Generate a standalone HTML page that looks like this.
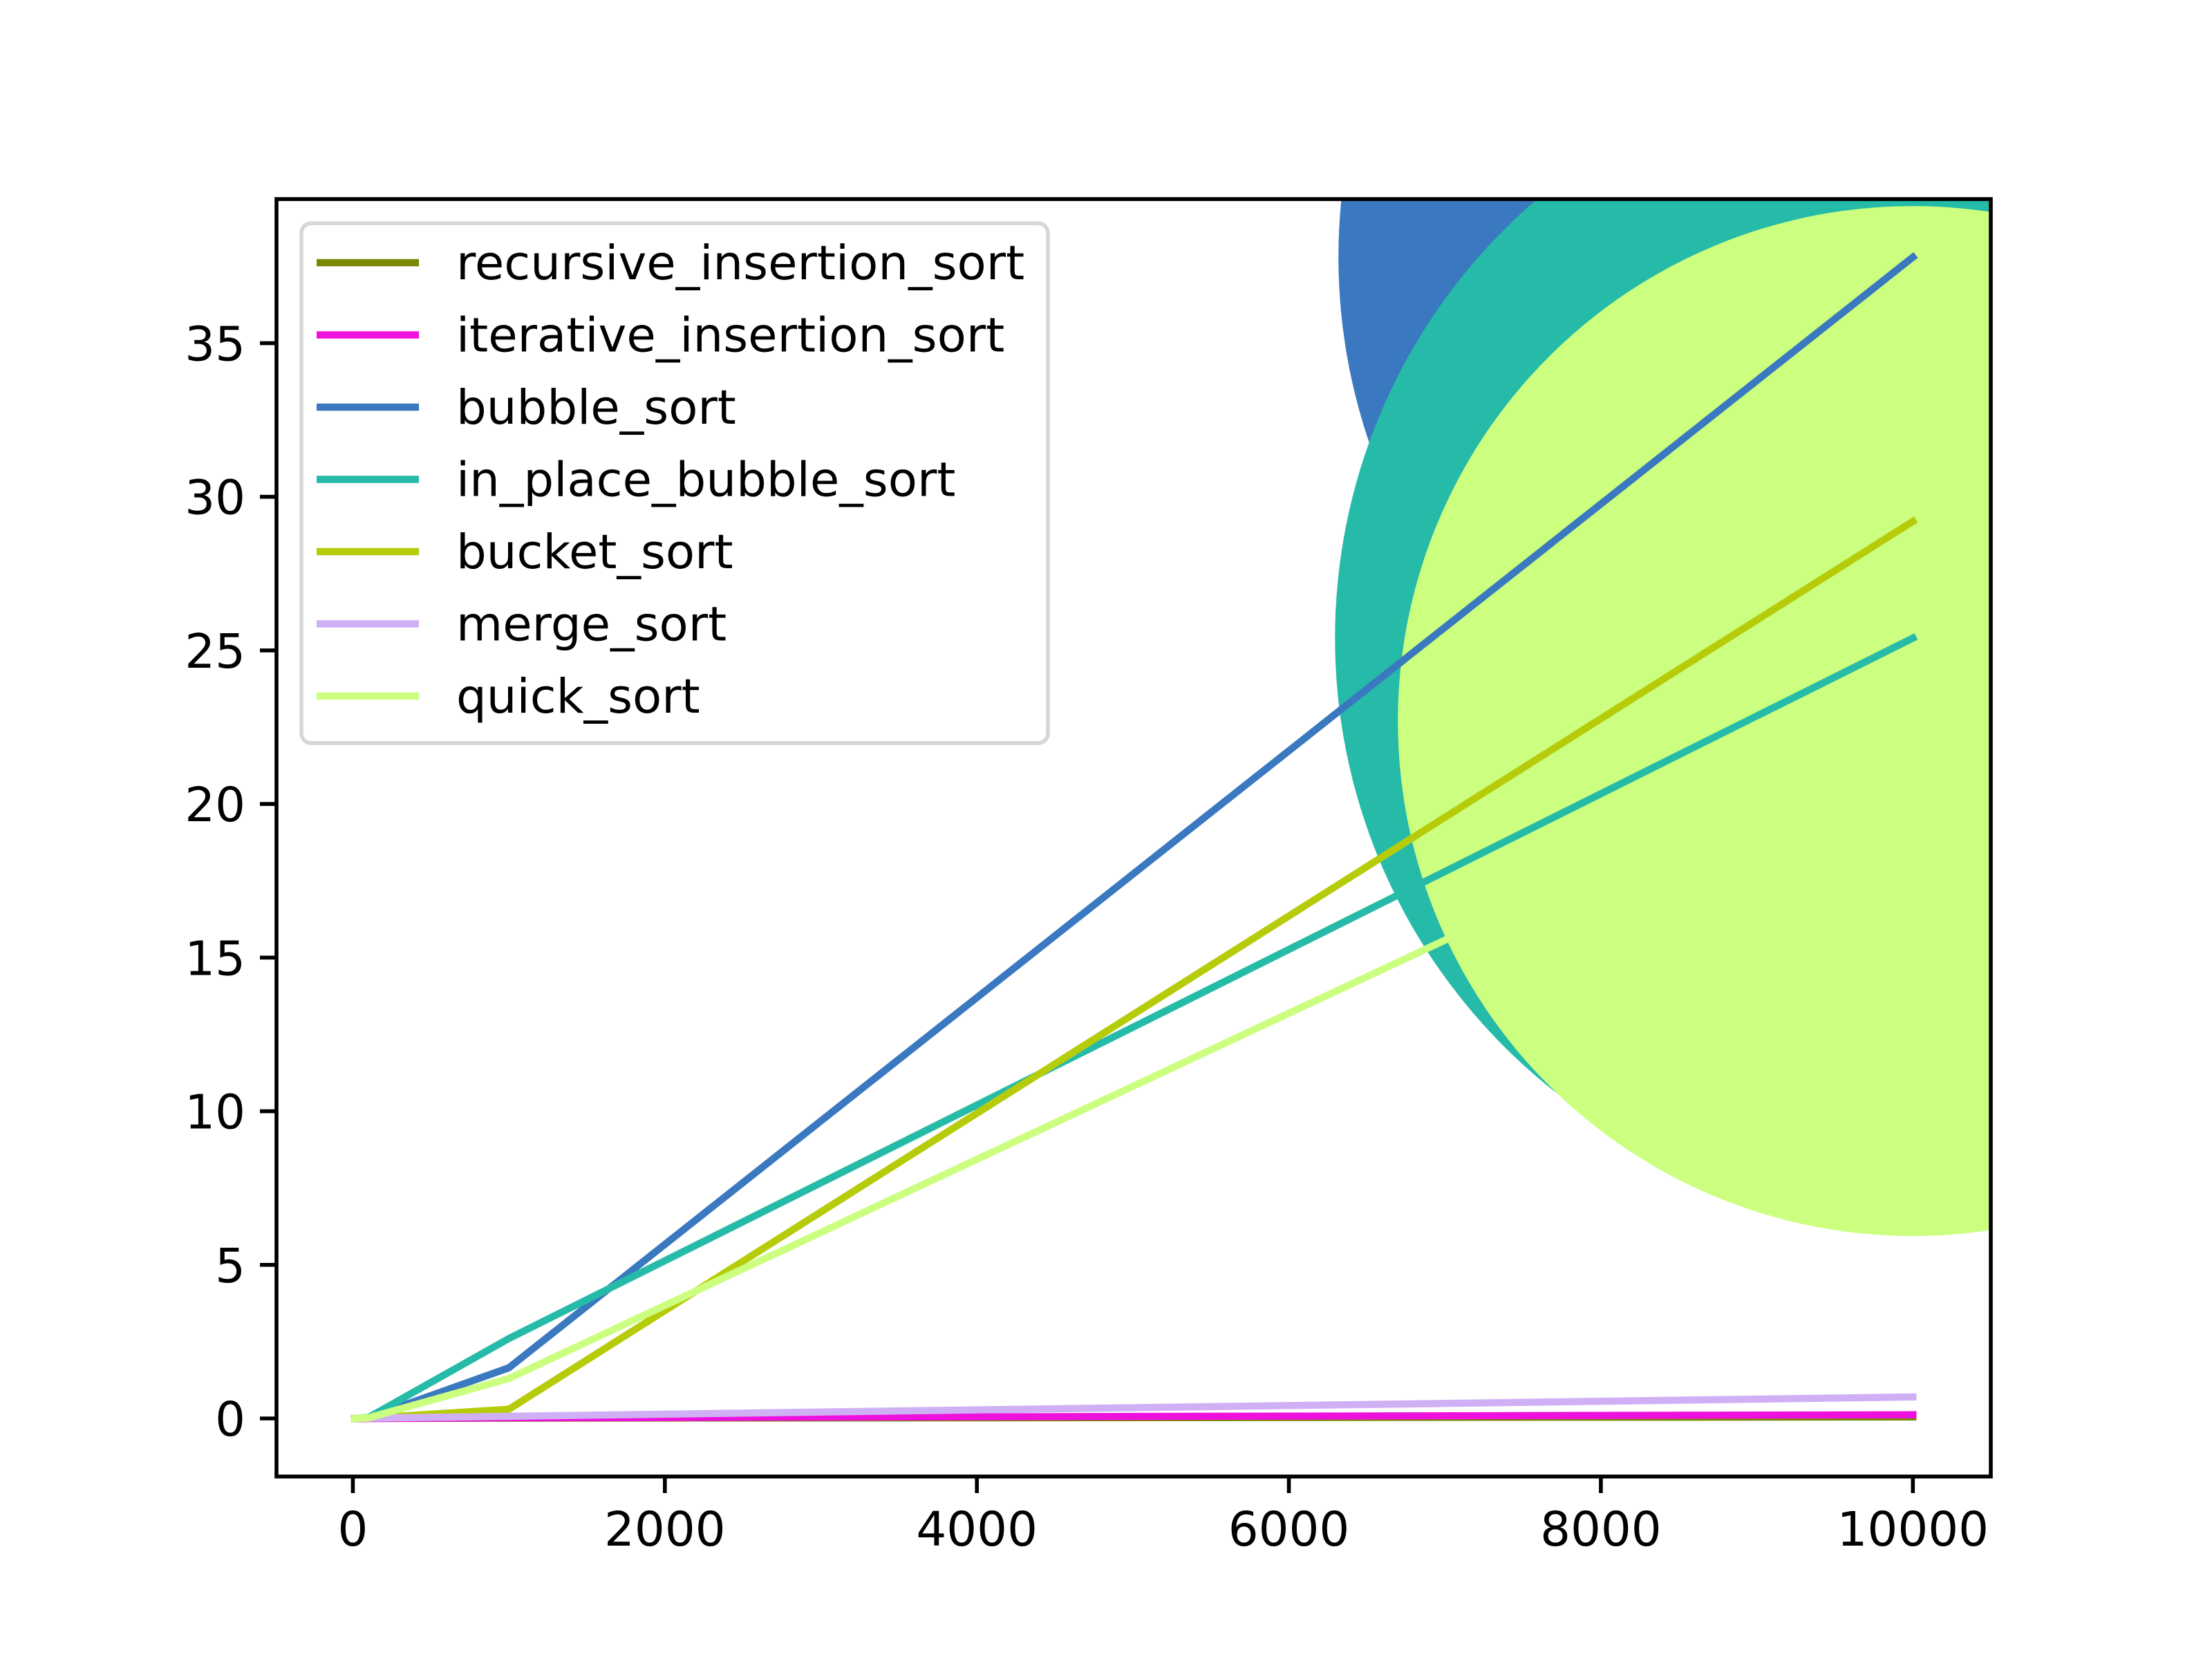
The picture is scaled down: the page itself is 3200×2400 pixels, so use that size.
<!DOCTYPE html>
<html><head><meta charset="utf-8"><style>
html,body{margin:0;padding:0;background:#fff;}
svg{display:block;font-family:"DejaVu Sans","Liberation Sans",sans-serif;}
</style></head><body>
<svg id="chart" width="3200" height="2400" viewBox="0 0 3200 2400" xmlns="http://www.w3.org/2000/svg">
<defs><clipPath id="plotclip"><rect x="400" y="288" width="2480" height="1848"/></clipPath></defs>
<rect width="3200" height="2400" fill="#fff"/>
<g id="bubbles" clip-path="url(#plotclip)"></g>
<g id="lines" clip-path="url(#plotclip)"></g>
<g id="axes"></g>
<g id="legend"></g>
</svg>
<script>
const xValues = [10, 100, 1000, 10000];
const seriesNames = ["recursive_insertion_sort","iterative_insertion_sort","bubble_sort","in_place_bubble_sort","bucket_sort","merge_sort","quick_sort"];
const recursiveInsertion = [0, 0, 0.01, 0.05];
const iterativeInsertion = [0, 0, 0.02, 0.12];
const bubbleSort = [0, 0.02, 1.65, 37.8];
const inPlaceBubble = [0, 0.03, 2.6, 25.4];
const bucketSort = [0, 0.01, 0.3, 29.2];
const mergeSort = [0, 0.01, 0.07, 0.7];
const quickSort = [0, 0.02, 1.3, 22.7];
const xTicks = [0, 2000, 4000, 6000, 8000, 10000];
const yTicks = [0, 5, 10, 15, 20, 25, 30, 35];
const bubbleSeries = [2, 3, 6];
const bubbleRadii = [831, 836, 745];

const colors = ["#7a8800","#ee11dd","#3a78c0","#25bba8","#b6cc0a","#d0b0f5","#ccff80"];
const allSeries = [recursiveInsertion, iterativeInsertion, bubbleSort, inPlaceBubble, bucketSort, mergeSort, quickSort];
const NS = "http://www.w3.org/2000/svg";
const L=400,R=2880,T=288,B=2136;
const xmin = Math.min(...xValues), xmaxv = Math.max(...xValues);
const xr = xmaxv - xmin;
const X0 = xmin - 0.05*xr, X1 = xmaxv + 0.05*xr;
let ymn = Infinity, ymx = -Infinity;
allSeries.forEach(s=>s.forEach(v=>{ymn=Math.min(ymn,v);ymx=Math.max(ymx,v);}));
const yr = ymx - ymn;
const Y0 = ymn - 0.05*yr, Y1 = ymx + 0.05*yr;
const sx = v => L + (v - X0)/(X1 - X0)*(R-L);
const sy = v => B - (v - Y0)/(Y1 - Y0)*(B-T);
function mk(tag, attrs, parent){const e=document.createElementNS(NS,tag);for(const k in attrs)e.setAttribute(k,attrs[k]);parent.appendChild(e);return e;}

const gb = document.getElementById("bubbles");
bubbleSeries.forEach((si,i)=>{
  const s = allSeries[si];
  const c = mk("circle",{cx:sx(xValues[xValues.length-1]),cy:sy(s[s.length-1]),r:bubbleRadii[i],fill:colors[si]},gb);
  
  
});
const gl = document.getElementById("lines");
allSeries.forEach((s,si)=>{
  const pts = s.map((v,i)=>sx(xValues[i]).toFixed(1)+","+sy(v).toFixed(1)).join(" ");
  const p = mk("polyline",{points:pts,fill:"none",stroke:colors[si],"stroke-width":10.4,"stroke-linecap":"square","stroke-linejoin":"round"},gl);
  
  
});
const ga = document.getElementById("axes");
xTicks.forEach(t=>{
  const x=sx(t);
  const tk = mk("line",{x1:x,x2:x,y1:B,y2:B+24,stroke:"#000","stroke-width":5.6},ga);
  
  
  const tx = mk("text",{x:x,y:B+100,"font-size":69,"text-anchor":"middle",fill:"#000"},ga);
  tx.textContent = t;
  
  
});
yTicks.forEach(t=>{
  const y=sy(t);
  const tk = mk("line",{x1:L-24,x2:L,y1:y,y2:y,stroke:"#000","stroke-width":5.6},ga);
  
  
  const tx = mk("text",{x:L-45,y:y+25,"font-size":69,"text-anchor":"end",fill:"#000"},ga);
  tx.textContent = t;
  
  
});
const fr = mk("rect",{x:L,y:T,width:R-L,height:B-T,fill:"none",stroke:"#000","stroke-width":5.6},ga);



const lg = document.getElementById("legend");
const box = mk("rect",{x:436,y:323,width:1080,height:752,rx:14,fill:"#fff","fill-opacity":0.8,stroke:"#d6d6d6","stroke-width":5.6},lg);


seriesNames.forEach((n,i)=>{
  const y = 380 + i*104.5;
  const ln = mk("line",{x1:458,x2:606,y1:y,y2:y,stroke:colors[i],"stroke-width":10.4},lg);
  
  
  const tx = mk("text",{x:660,y:y+24,"font-size":69,fill:"#000"},lg);
  tx.textContent = n;
  
  
});
</script>
</body></html>
